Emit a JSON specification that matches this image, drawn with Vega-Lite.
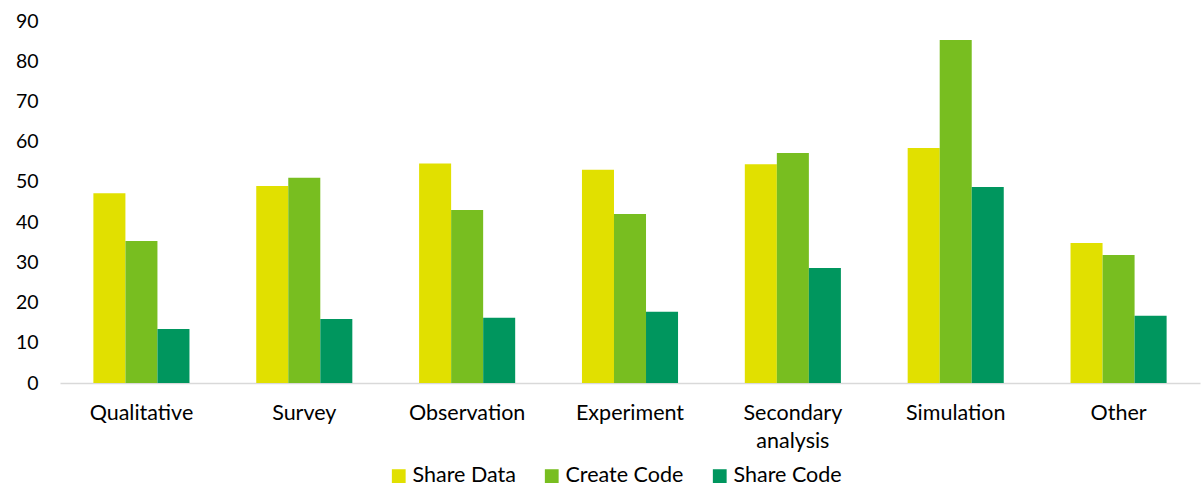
{
  "$schema": "https://vega.github.io/schema/vega-lite/v6.json",
  "width": 1140,
  "height": 362,
  "autosize": {"type": "none"},
  "padding": {"left": 60, "top": 21, "right": 3, "bottom": 104},
  "background": "white",
  "config": {
    "view": {"stroke": null},
    "font": "Lato",
    "axis": {"labelFont": "Lato", "labelColor": "#000000", "grid": false, "ticks": false, "title": null}
  },
  "data": {
    "values": [
      {"method": "Qualitative", "measure": "Share Data", "value": 47.2},
      {"method": "Qualitative", "measure": "Create Code", "value": 35.3},
      {"method": "Qualitative", "measure": "Share Code", "value": 13.4},
      {"method": "Survey", "measure": "Share Data", "value": 49.0},
      {"method": "Survey", "measure": "Create Code", "value": 51.0},
      {"method": "Survey", "measure": "Share Code", "value": 15.9},
      {"method": "Observation", "measure": "Share Data", "value": 54.6},
      {"method": "Observation", "measure": "Create Code", "value": 43.0},
      {"method": "Observation", "measure": "Share Code", "value": 16.2},
      {"method": "Experiment", "measure": "Share Data", "value": 53.0},
      {"method": "Experiment", "measure": "Create Code", "value": 42.0},
      {"method": "Experiment", "measure": "Share Code", "value": 17.7},
      {"method": "Secondary analysis", "measure": "Share Data", "value": 54.4},
      {"method": "Secondary analysis", "measure": "Create Code", "value": 57.2},
      {"method": "Secondary analysis", "measure": "Share Code", "value": 28.6},
      {"method": "Simulation", "measure": "Share Data", "value": 58.4},
      {"method": "Simulation", "measure": "Create Code", "value": 85.3},
      {"method": "Simulation", "measure": "Share Code", "value": 48.7},
      {"method": "Other", "measure": "Share Data", "value": 34.8},
      {"method": "Other", "measure": "Create Code", "value": 31.8},
      {"method": "Other", "measure": "Share Code", "value": 16.7}
    ]
  },
  "mark": {"type": "bar"},
  "encoding": {
    "x": {
      "field": "method", "type": "nominal", "sort": null,
      "scale": {"paddingInner": 0.41, "paddingOuter": 0.205},
      "axis": {
        "labelAngle": 0, "labelPadding": 19, "labelFontSize": 21.5, "domainColor": "#d9d9d9", "domainWidth": 1.5,
        "labelExpr": "datum.value == 'Secondary analysis' ? ['Secondary', 'analysis'] : datum.value",
        "labelLineHeight": 28, "labelBaseline": "top"
      }
    },
    "xOffset": {"field": "measure", "type": "nominal", "sort": ["Share Data", "Create Code", "Share Code"]},
    "y": {
      "field": "value", "type": "quantitative",
      "scale": {"domain": [0, 90]},
      "axis": {"values": [0, 10, 20, 30, 40, 50, 60, 70, 80, 90], "domain": false, "labelPadding": 22, "labelFontSize": 19.5}
    },
    "color": {
      "field": "measure", "type": "nominal",
      "sort": ["Share Data", "Create Code", "Share Code"],
      "scale": {"domain": ["Share Data", "Create Code", "Share Code"], "range": ["#E1E000", "#78BE20", "#00965E"]},
      "legend": {
        "title": null, "orient": "none", "legendX": 328, "legendY": 444, "direction": "horizontal", "padding": 0,
        "symbolType": "square", "symbolSize": 190, "symbolStrokeWidth": 0,
        "labelFont": "Lato", "labelFontSize": 21.5, "labelColor": "#000000",
        "columnPadding": 25, "labelOffset": 3
      }
    }
  }
}
